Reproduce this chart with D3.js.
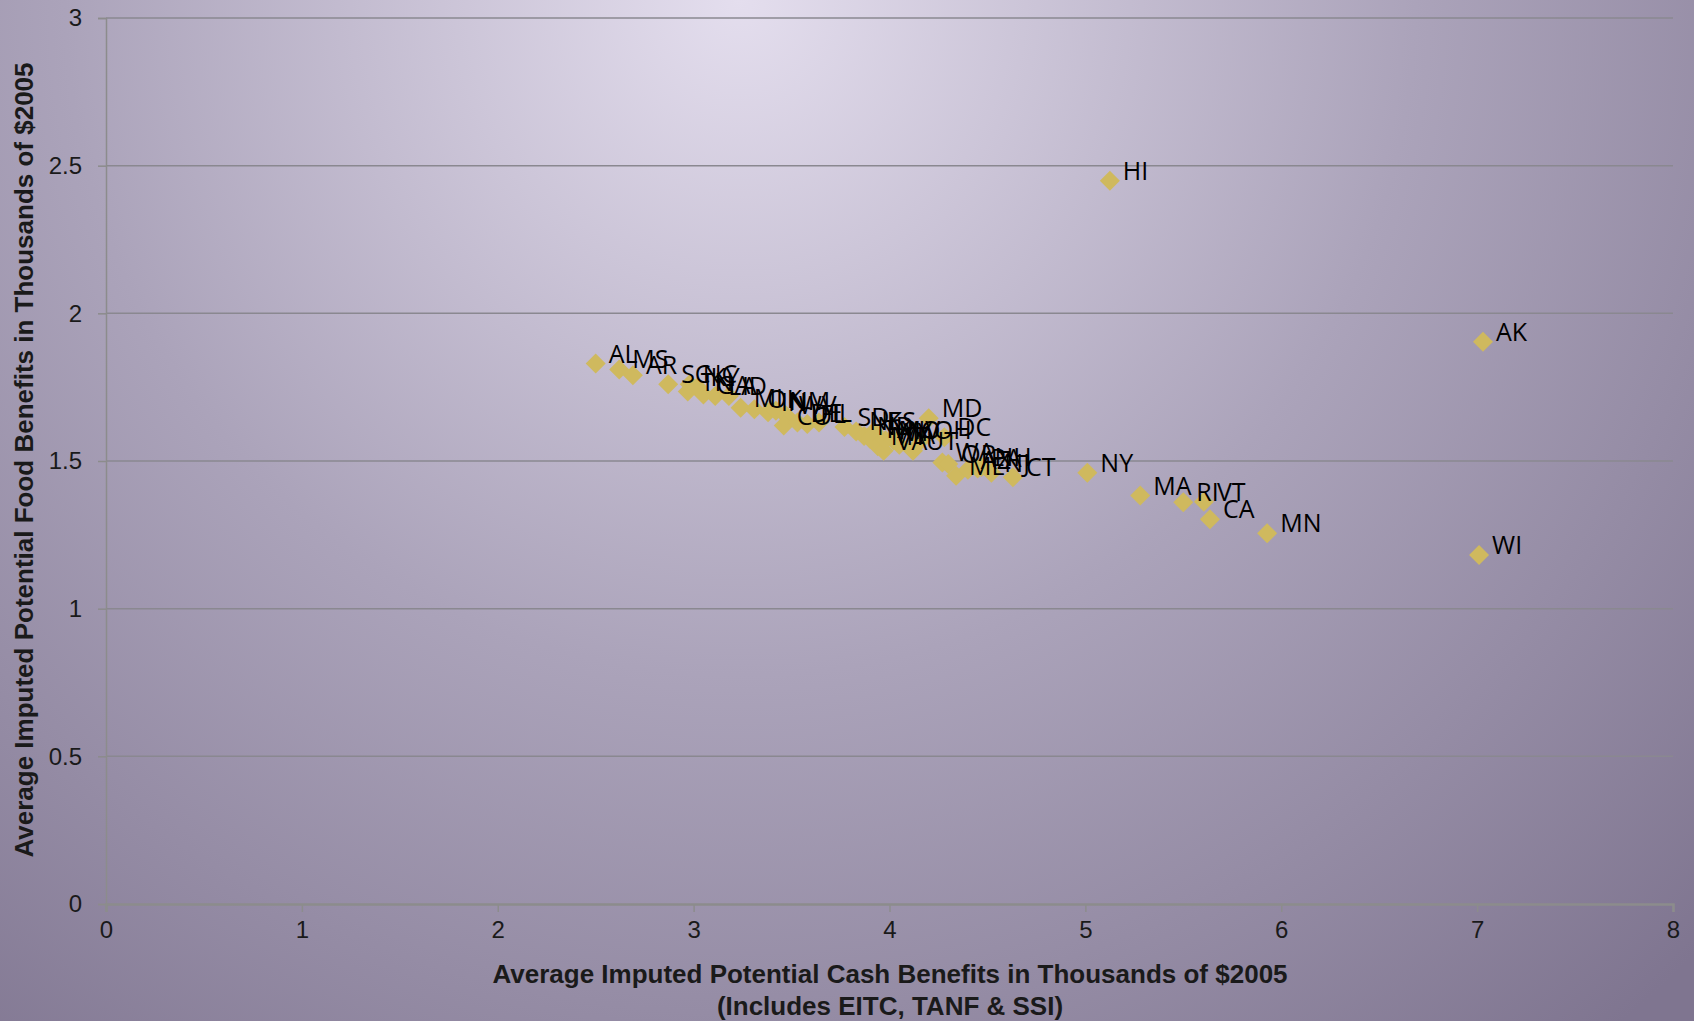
<!DOCTYPE html>
<html><head><meta charset="utf-8">
<script src="https://cdn.jsdelivr.net/npm/d3@7"></script>
<style>html,body{margin:0;padding:0;overflow:hidden;}</style>
</head><body>
<svg id="c" width="1694" height="1021"></svg>
<script>
const states = ["AL","MS","AR","SC","NC","TN","GA","KY","LA","ID","MI","OK","IN","NM","WV","CO","DE","FL","IL","SD","NE","ND","KS","TX","WY","MT","VA","MO","NV","IA","UT","OH","MD","DC","WA","OR","ME","AZ","PA","NH","NJ","CT","NY","MA","RI","VT","CA","MN","HI","AK","WI"];
const cashBenefits = [2.50,2.62,2.69,2.87,2.98,2.97,3.05,3.02,3.11,3.18,3.24,3.31,3.38,3.42,3.47,3.46,3.53,3.58,3.64,3.77,3.83,3.87,3.92,3.90,3.96,3.94,3.97,3.98,4.02,4.05,4.12,4.16,4.20,4.28,4.27,4.30,4.34,4.40,4.45,4.47,4.52,4.63,5.01,5.28,5.50,5.605,5.636,5.928,5.125,7.03,7.01];
const foodBenefits = [1.83,1.81,1.79,1.76,1.76,1.735,1.725,1.75,1.72,1.72,1.68,1.675,1.665,1.67,1.655,1.62,1.63,1.625,1.63,1.615,1.60,1.585,1.60,1.575,1.565,1.55,1.535,1.57,1.57,1.555,1.535,1.57,1.645,1.58,1.495,1.49,1.45,1.47,1.475,1.48,1.46,1.445,1.46,1.383,1.36,1.362,1.303,1.255,2.449,1.904,1.182];
const xTicks = [0,1,2,3,4,5,6,7,8];
const yTicks = [0,0.5,1,1.5,2,2.5,3];
const xTitle1 = "Average Imputed Potential Cash Benefits in Thousands of $2005";
const xTitle2 = "(Includes EITC, TANF & SSI)";
const yTitle = "Average Imputed Potential Food Benefits in Thousands of $2005";

const svg = d3.select("#c");
const defs = svg.append("defs");
const g = defs.append("radialGradient").attr("id","bg").attr("gradientUnits","userSpaceOnUse")
  .attr("cx",740).attr("cy",0).attr("r",1350);
g.append("stop").attr("offset","0").attr("stop-color","#e4deee");
g.append("stop").attr("offset","0.5").attr("stop-color","#aba3ba");
g.append("stop").attr("offset","1").attr("stop-color","#7f7590");
svg.append("rect").attr("width",1694).attr("height",1021).attr("fill","url(#bg)");

const x = d3.scaleLinear().domain([0,8]).range([106,1673]);
const y = d3.scaleLinear().domain([0,3]).range([904,18]);

// gridlines
svg.append("g").selectAll("line").data(yTicks.filter(d=>d>0)).join("line")
  .attr("x1",x(0)).attr("x2",x(8)).attr("y1",d=>y(d)).attr("y2",d=>y(d))
  .attr("stroke","#8a8890").attr("stroke-width",1.5);

// y axis
const ya = svg.append("g").attr("transform",`translate(${x(0)},0)`)
  .call(d3.axisLeft(y).tickValues(yTicks).tickSize(8).tickPadding(16).tickFormat(d3.format("")));
ya.select(".domain").attr("stroke","#8c8c8c").attr("stroke-width",1.5);
ya.selectAll(".tick line").attr("stroke","#8c8c8c").attr("stroke-width",1.5);
ya.selectAll("text").attr("font-family","'Liberation Sans', Arial, sans-serif").attr("font-size",24).attr("fill","#1a1a1a");

// x axis
const xa = svg.append("g").attr("transform",`translate(0,${y(0)})`)
  .call(d3.axisBottom(x).tickValues(xTicks).tickSize(8).tickPadding(9).tickFormat(d3.format("d")));
xa.select(".domain").attr("stroke","#8c8c8c").attr("stroke-width",2.5);
xa.selectAll(".tick line").attr("stroke","#8c8c8c").attr("stroke-width",1.5);
xa.selectAll("text").attr("font-family","'Liberation Sans', Arial, sans-serif").attr("font-size",24).attr("fill","#1a1a1a");

// points
const data = states.map((s,i)=>({s, cx: cashBenefits[i], fy: foodBenefits[i]}));
const diamond = d3.symbol().type(d3.symbolSquare).size(200);
svg.append("g").selectAll("path").data(data).join("path")
  .attr("d",diamond)
  .attr("transform",d=>`translate(${x(d.cx)},${y(d.fy)}) rotate(45)`)
  .attr("fill","#cfb95e");

svg.append("g").selectAll("text").data(data).join("text")
  .attr("x",d=>x(d.cx)+13).attr("y",d=>y(d.fy)-1)
  .attr("font-family","'Open Sans', 'Noto Sans', sans-serif").attr("font-size",25).attr("fill","#000")
  .text(d=>d.s);

// titles
const tf = "'Liberation Sans', Arial, sans-serif";
svg.append("text").attr("x",890).attr("y",983).attr("text-anchor","middle")
  .attr("font-family",tf).attr("font-weight","bold").attr("font-size",26).attr("fill","#1a1a1a")
  .text(xTitle1);
svg.append("text").attr("x",890).attr("y",1015).attr("text-anchor","middle")
  .attr("font-family",tf).attr("font-weight","bold").attr("font-size",26).attr("fill","#1a1a1a")
  .text(xTitle2);
svg.append("text").attr("transform","translate(33,460) rotate(-90)").attr("text-anchor","middle")
  .attr("font-family",tf).attr("font-weight","bold").attr("font-size",26).attr("fill","#1a1a1a")
  .text(yTitle);
</script>
</body></html>
